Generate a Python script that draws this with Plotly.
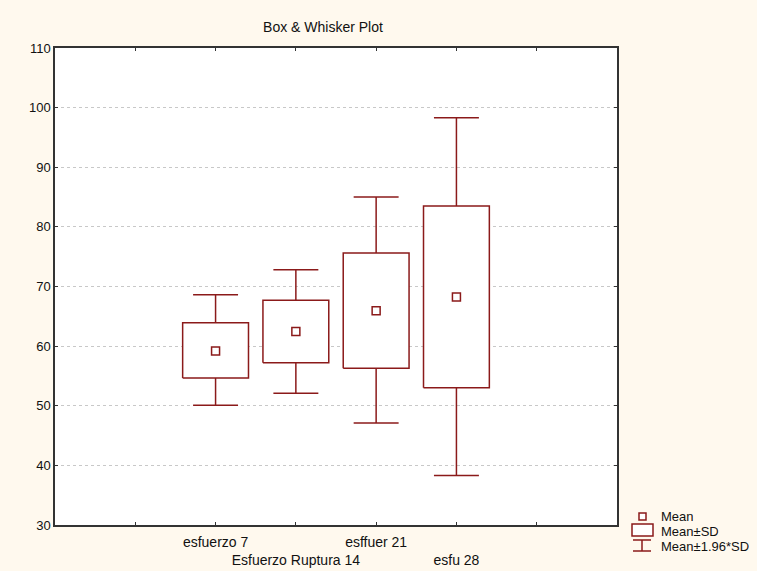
import plotly.graph_objects as go

# ---- data ----
categories = ["esfuerzo 7", "Esfuerzo Ruptura 14", "esffuer 21", "esfu 28"]
positions = [2, 3, 4, 5]
means = [59.2, 62.45, 65.95, 68.25]
sd_low = [54.65, 57.2, 56.3, 53.0]
sd_high = [63.9, 67.7, 75.6, 83.5]
ci_low = [50.1, 52.1, 47.1, 38.3]
ci_high = [68.6, 72.8, 85.0, 98.3]

tick_vals = [1, 2, 3, 4, 5, 6]
y_ticks = [30, 40, 50, 60, 70, 80, 90, 100, 110]
legend_labels = ["Mean", "Mean±SD", "Mean±1.96*SD"]

RED = "#8B1A1A"
BG = "#FFF9EE"
FONT = "Liberation Sans"
BOX_HW = 0.41
CAP_HW = 0.28

fig = go.Figure()

for i, c in enumerate(positions):
    # whisker stems
    fig.add_trace(go.Scatter(
        x=[c, c, None, c, c], y=[sd_high[i], ci_high[i], None, sd_low[i], ci_low[i]],
        mode="lines", line=dict(color=RED, width=1.5), showlegend=False, hoverinfo="skip"))
    # whisker caps
    fig.add_trace(go.Scatter(
        x=[c - CAP_HW, c + CAP_HW, None, c - CAP_HW, c + CAP_HW],
        y=[ci_high[i], ci_high[i], None, ci_low[i], ci_low[i]],
        mode="lines", line=dict(color=RED, width=1.5), showlegend=False, hoverinfo="skip"))
    # box (mean +/- SD), white fill
    fig.add_trace(go.Scatter(
        x=[c - BOX_HW, c + BOX_HW, c + BOX_HW, c - BOX_HW, c - BOX_HW],
        y=[sd_low[i], sd_low[i], sd_high[i], sd_high[i], sd_low[i]],
        mode="lines", fill="toself", fillcolor="white",
        line=dict(color=RED, width=1.5), showlegend=False, hoverinfo="skip"))

# means
fig.add_trace(go.Scatter(
    x=positions, y=means, mode="markers",
    marker=dict(symbol="square", size=8, color="white", line=dict(color=RED, width=1.5)),
    showlegend=False))

# staggered tick labels
tick_text = [""]
for k, name in enumerate(categories):
    tick_text.append(name if k % 2 == 0 else "<br>" + name)
tick_text.append("")

fig.update_layout(
    width=757, height=571,
    paper_bgcolor=BG, plot_bgcolor="white",
    margin=dict(l=55, r=140, t=48, b=46, autoexpand=False),
    font=dict(family=FONT, size=13, color="#111"),
    showlegend=False,
    title=dict(text="Box & Whisker Plot", x=323 / 757, xanchor="center", xref="container",
               y=1 - 27 / 571, yanchor="middle", yref="container",
               font=dict(family=FONT, size=14, color="#111")),
)

fig.update_xaxes(
    range=[0, 7], tickmode="array", tickvals=tick_vals, ticktext=tick_text, tickangle=0,
    automargin=False, ticklabelstandoff=3,
    ticks="inside", ticklen=3, tickcolor="#333", mirror="ticks",
    showline=True, linecolor="#333", linewidth=1.5, showgrid=False, zeroline=False,
    tickfont=dict(family=FONT, size=14, color="#111"))
fig.update_yaxes(
    range=[30, 110], tickmode="array", tickvals=y_ticks, automargin=False,
    ticks="inside", ticklen=3, tickcolor="#333", mirror="ticks",
    showline=True, linecolor="#333", linewidth=1.5,
    showgrid=True, gridcolor="#C8C8C8", griddash="dot", gridwidth=1, zeroline=False,
    tickfont=dict(family=FONT, size=13, color="#111"))

# ---- legend drawn manually to the right of the plot ----
L, R, T, B = 55, 617, 48, 525


def px(x):
    return (x - L) / (R - L)


def py(y):
    return (B - y) / (B - T)


line_style = dict(color=RED, width=1.5)
fig.add_shape(type="rect", xref="paper", yref="paper",
              x0=px(639), x1=px(646), y0=py(520), y1=py(513), line=line_style, fillcolor="white")
fig.add_shape(type="rect", xref="paper", yref="paper",
              x0=px(632), x1=px(653), y0=py(536), y1=py(524), line=line_style, fillcolor="white")
for (x0, y0, x1, y1) in [(633, 540, 651, 540), (642, 540, 642, 551), (633, 551, 651, 551)]:
    fig.add_shape(type="line", xref="paper", yref="paper",
                  x0=px(x0), x1=px(x1), y0=py(y0), y1=py(y1), line=line_style)

for text, yy in zip(legend_labels, [516, 531, 546]):
    fig.add_annotation(text=text, xref="paper", yref="paper", x=px(659), y=py(yy),
                       xanchor="left", yanchor="middle", align="left", height=14,
                       showarrow=False, font=dict(family=FONT, size=13, color="#111"))

fig.write_html("out.html")
